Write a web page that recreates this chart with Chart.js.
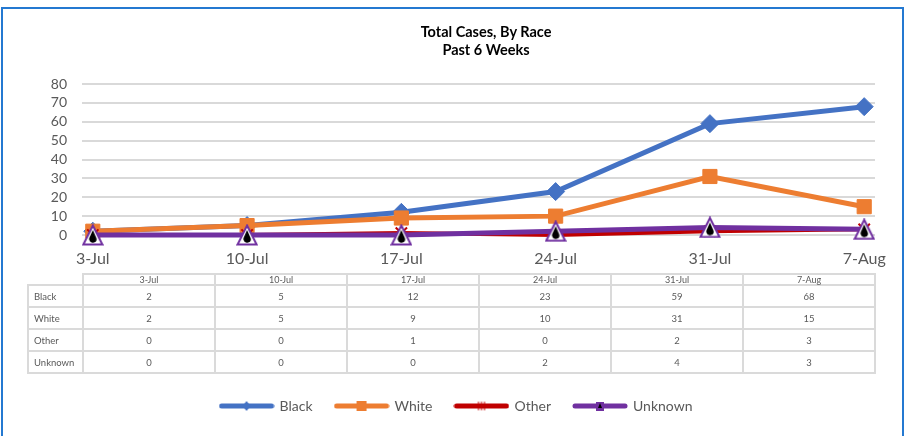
<!DOCTYPE html>
<html>
<head>
<meta charset="utf-8">
<script src="https://cdn.jsdelivr.net/npm/chart.js@4/dist/chart.umd.min.js"></script>
<style>
  html, body { margin:0; padding:0; background:#fff; }
  body { width:906px; height:436px; position:relative; overflow:hidden; font-family:Lato, "Liberation Sans", sans-serif; }
  #frame { position:absolute; left:1px; top:7px; width:899px; height:440px; border:2px solid #2479d1; }
  #wrap { position:absolute; left:0; top:0; width:906px; height:436px; }
  #title { position:absolute; left:286px; width:400px; top:23px; text-align:center; font-weight:bold; font-size:14.5px; line-height:18px; color:#000; }
  #dataTable { position:absolute; left:27px; top:273px; width:849px; border-collapse:collapse; table-layout:fixed; color:#595959; font-size:9.5px; }
  #dataTable td { border:2px solid #dadada; text-align:center; padding:0; height:20px; }
  #dataTable tr.head td { height:9px; font-size:9px; line-height:9px; }
  #dataTable td.rowlab { text-align:left; padding-left:5px; }
  #dataTable td.corner { border-top:none; border-left:none; }
</style>
</head>
<body>
<div id="frame"></div>
<div id="wrap"><canvas id="chart" width="906" height="436"></canvas></div>
<div id="title">Total Cases, By Race<br>Past 6 Weeks</div>
<table id="dataTable"></table>
<script>
// categories and series
const weeks = ['3-Jul', '10-Jul', '17-Jul', '24-Jul', '31-Jul', '7-Aug'];
const black = [2, 5, 12, 23, 59, 68];
const white = [2, 5, 9, 10, 31, 15];
const other = [0, 0, 1, 0, 2, 3];
const unknown = [0, 0, 0, 2, 4, 3];
const yTicks = [0, 10, 20, 30, 40, 50, 60, 70, 80];

// Unknown marker: purple triangle outline, white inside, black drop
function triangleMarker(){
  const c = document.createElement('canvas');
  c.width = 22; c.height = 22;
  const g = c.getContext('2d');
  g.beginPath(); g.moveTo(11, 1.5); g.lineTo(20.5, 20.5); g.lineTo(1.5, 20.5); g.closePath();
  g.fillStyle = '#fff'; g.fill();
  g.strokeStyle = '#7030A0'; g.lineWidth = 2; g.lineJoin = 'miter'; g.stroke();
  g.fillStyle = '#000';
  g.beginPath(); g.moveTo(11, 6); g.lineTo(14.5, 14); g.arc(11, 15, 3.7, -0.3, Math.PI + 0.3); g.closePath(); g.fill();
  return c;
}

const series = [
  { name:'Black', values:black, color:'#4472C4', width:5, style:'rectRot', radius:9, fill:'#4472C4', border:'#4472C4', bw:1 },
  { name:'White', values:white, color:'#ED7D31', width:5, style:'rect', radius:10, fill:'#ED7D31', border:'#ED7D31', bw:1 },
  { name:'Other', values:other, color:'#C00000', width:4, style:'crossRot', radius:8, fill:'#C00000', border:'#C00000', bw:2 },
  { name:'Unknown', values:unknown, color:'#7030A0', width:5, style:triangleMarker(), radius:10, fill:'#000000', border:'#7030A0', bw:2 }
];

// data table under the plot
const table = document.getElementById('dataTable');
let html = '<colgroup><col style="width:55px">' + weeks.map(() => '<col>').join('') + '</colgroup>';
html += '<tr class="head"><td class="corner"></td>' + weeks.map(w => `<td>${w}</td>`).join('') + '</tr>';
series.forEach(s => {
  html += `<tr><td class="rowlab">${s.name}</td>` + s.values.map(v => `<td>${v}</td>`).join('') + '</tr>';
});
table.innerHTML = html;

// small legend swatch: a thick line with the marker in the middle
function swatch(s){
  const c = document.createElement('canvas');
  c.width = 56; c.height = 14;
  const g = c.getContext('2d');
  g.strokeStyle = s.color; g.lineWidth = 5; g.lineCap = 'round';
  g.beginPath(); g.moveTo(3, 7); g.lineTo(53, 7); g.stroke();
  g.fillStyle = s.fill;
  if(s.name === 'Black'){
    g.beginPath(); g.moveTo(28, 2); g.lineTo(32, 7); g.lineTo(28, 12); g.lineTo(24, 7); g.closePath(); g.fill();
  } else if(s.name === 'White'){
    g.fillRect(23, 2, 10, 10);
  } else if(s.name === 'Other'){
    g.strokeStyle = '#C00000'; g.lineWidth = 1;
    g.beginPath();
    [25, 28, 31].forEach(x => { g.moveTo(x, 3); g.lineTo(x, 11); });
    g.stroke();
  } else {
    g.fillStyle = '#7030A0'; g.fillRect(24, 3, 8, 9);
    g.fillStyle = '#000';
    g.beginPath(); g.moveTo(28, 4); g.lineTo(30, 9); g.lineTo(26, 9); g.closePath(); g.fill();
  }
  return c;
}
const swatches = series.map(swatch);

new Chart(document.getElementById('chart'), {
  type: 'line',
  data: {
    datasets: series.map((s, i) => ({
      label: s.name,
      data: s.values.map((v, j) => ({ x:j, y:v })),
      borderColor: s.color,
      borderWidth: s.width,
      backgroundColor: s.fill,
      pointStyle: s.style,
      pointRadius: s.radius,
      pointHoverRadius: s.radius,
      pointBackgroundColor: s.fill,
      pointBorderColor: s.border,
      pointBorderWidth: s.bw,
      tension: 0,
      clip: false,
      order: series.length - i
    }))
  },
  options: {
    responsive: false,
    animation: false,
    layout: { padding: { left:38, right:31, top:84, bottom:13 } },
    plugins: {
      tooltip: { enabled:false },
      title: { display:false },
      legend: {
        position: 'bottom',
        labels: {
          usePointStyle: true,
          pointStyleWidth: 52,
          padding: 23,
          color: '#595959',
          font: { family:'Lato', size:14 },
          generateLabels: chart => series.map((s, i) => ({
            text: s.name,
            pointStyle: swatches[i],
            fillStyle: s.color,
            strokeStyle: s.color,
            lineWidth: 0,
            fontColor: '#595959',
            hidden: false,
            datasetIndex: i
          }))
        }
      }
    },
    scales: {
      x: {
        type: 'linear',
        min: -0.07,
        max: 5.07,
        afterBuildTicks: scale => { scale.ticks = weeks.map((w, i) => ({ value:i })); },
        afterFit: scale => { scale.height = 141; },
        grid: { display:false },
        border: { display:false },
        ticks: {
          autoSkip: false, maxRotation: 0, padding: 6,
          color: '#595959', font: { family:'Lato', size:16 },
          callback: v => weeks[v]
        }
      },
      y: {
        min: 0,
        max: 80,
        afterBuildTicks: scale => { scale.ticks = yTicks.map(v => ({ value:v })); },
        afterFit: scale => { scale.width = 44; },
        grid: { color:'#d9d9d9', lineWidth:2, drawTicks:false },
        border: { display:false },
        ticks: { autoSkip:false, padding: 15, color:'#595959', font: { family:'Lato', size:14 } }
      }
    }
  }
});
</script>
</body>
</html>
